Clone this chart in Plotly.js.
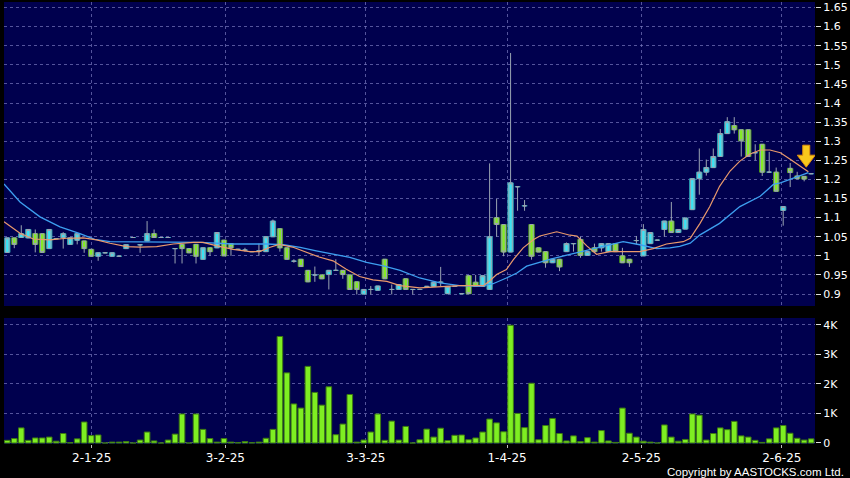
<!DOCTYPE html>
<html><head><meta charset="utf-8">
<script src="https://cdn.plot.ly/plotly-3.0.1.min.js"></script>
<style>html,body{margin:0;padding:0;background:#000;}#chart{width:850px;height:478px;}</style>
</head><body><div id="chart"></div>
<script>
// ---- data (one entry per trading day) ----
const openP  = [1.009,1.047,1.048,1.047,1.058,1.058,1.019,1.045,1.048,1.03,1.041,1.039,1.017,0.999,1.008,0.999,0.999,1.019,1.048,1.029,1.039,1.058,1.048,1.048,1.019,1.03,1.019,1.03,0.991,1.021,
1.021,1.041,1.032,1.017,1.015,1.011,1.013,1.011,1.05,1.071,1.021,0.986,0.991,0.962,0.95,0.95,0.951,0.962,0.962,0.95,0.932,0.9,0.912,0.91,0.991,0.912,0.912,0.94,0.912,0.912,
0.92,0.92,0.931,0.901,0.92,0.901,0.948,0.931,0.92,0.912,1.1,1.082,1.01,1.181,1.131,1.082,1.021,1.011,0.982,0.991,1.011,1.032,1.043,1.001,1.021,1.021,1.011,1.032,1.0,0.991,
1.04,1.0,1.032,1.041,1.069,1.091,1.061,1.07,1.121,1.202,1.219,1.231,1.26,1.32,1.341,1.33,1.33,1.27,1.292,1.219,1.219,1.119,1.229,1.209,1.208,1.215];
const highP  = [1.047,1.047,1.08,1.069,1.069,1.058,1.069,1.045,1.062,1.047,1.058,1.039,1.017,1.008,1.008,1.008,0.999,1.029,1.048,1.029,1.091,1.069,1.048,1.048,1.019,1.03,1.019,1.03,1.021,1.021,
1.061,1.041,1.032,1.017,1.021,1.011,1.032,1.05,1.095,1.071,1.021,0.991,0.991,0.962,0.972,0.95,0.962,0.991,0.962,0.95,0.932,0.912,0.921,0.921,0.991,0.925,0.925,0.94,0.912,0.912,
0.92,0.931,0.971,0.92,0.92,0.901,0.948,0.95,0.948,1.242,1.149,1.082,1.531,1.181,1.146,1.082,1.021,1.011,0.991,0.991,1.035,1.032,1.05,1.011,1.032,1.032,1.032,1.032,1.021,0.991,
1.052,1.083,1.061,1.041,1.091,1.141,1.069,1.099,1.202,1.281,1.252,1.281,1.332,1.363,1.363,1.33,1.33,1.292,1.292,1.272,1.231,1.129,1.243,1.22,1.208,1.215];
const lowP   = [1.009,1.02,1.048,1.047,1.009,1.009,1.019,1.045,1.019,1.03,1.03,1.008,0.999,0.987,1.008,0.999,0.999,1.019,1.048,1.008,1.039,1.048,1.048,1.048,0.98,0.98,1.008,0.98,0.991,1.0,
1.021,1.0,1.0,1.017,1.011,1.011,1.0,1.011,1.05,1.011,0.991,0.982,0.972,0.932,0.932,0.94,0.912,0.962,0.94,0.912,0.899,0.9,0.899,0.91,0.94,0.899,0.912,0.912,0.899,0.912,
0.92,0.92,0.92,0.901,0.92,0.901,0.901,0.92,0.92,0.912,1.05,0.999,1.01,1.118,1.118,0.99,1.01,0.969,0.982,0.96,1.011,1.011,0.995,1.001,1.011,1.011,1.011,1.011,0.982,0.971,
1.03,1.0,1.032,1.041,1.05,1.061,1.061,1.07,1.121,1.16,1.21,1.231,1.26,1.32,1.32,1.26,1.26,1.25,1.209,1.219,1.169,1.079,1.18,1.2,1.195,1.215];
const closeP = [1.047,1.03,1.058,1.069,1.03,1.009,1.069,1.045,1.058,1.047,1.058,1.019,0.999,1.008,1.008,1.008,0.999,1.029,1.048,1.029,1.058,1.048,1.048,1.048,1.019,1.019,1.008,0.999,1.021,1.011,
1.061,1.0,1.021,1.017,1.015,1.011,1.013,1.05,1.091,1.021,0.991,0.986,0.972,0.932,0.95,0.94,0.962,0.962,0.951,0.912,0.912,0.912,0.912,0.921,0.94,0.912,0.925,0.912,0.912,0.912,
0.92,0.931,0.931,0.92,0.92,0.901,0.901,0.92,0.948,1.05,1.082,1.01,1.191,1.181,1.131,0.999,1.01,0.982,0.991,0.971,1.032,1.032,1.001,1.011,1.011,1.032,1.032,1.011,0.982,0.982,
1.04,1.069,1.061,1.041,1.091,1.061,1.069,1.099,1.202,1.219,1.231,1.26,1.32,1.351,1.33,1.301,1.26,1.27,1.219,1.219,1.169,1.129,1.218,1.202,1.201,1.215];
// volume in thousands
const volumeK = [0.09,0.15,0.51,0.09,0.17,0.17,0.2,0.06,0.32,0.01,0.14,0.71,0.25,0.27,0,0.03,0.03,0.05,0,0.1,0.37,0.07,0,0.1,0.3,0.98,0,0.98,0.46,0.15,
0.03,0.15,0.03,0.01,0.05,0.01,0.03,0.16,0.46,3.6,2.37,1.32,1.18,2.59,1.71,1.28,1.9,0.28,0.64,1.64,0.03,0.1,0.37,0.98,0.09,0.74,0.1,0.56,0,0.11,
0.47,0.2,0.5,0.08,0.26,0.27,0.11,0.17,0.37,0.81,0.68,0.38,3.98,1.0,0.52,2.02,0.11,0.59,0.83,0.32,0.07,0.24,0.05,0.18,0.03,0.42,0.07,0.02,1.18,0.33,
0.2,0.06,0.03,0,0.61,0.2,0.06,0.12,0.98,0.94,0.1,0.32,0.51,0.45,0.73,0.24,0.2,0.09,0.02,0.14,0.51,0.59,0.33,0.16,0.1,0.14];
// moving averages (position in trading days, value)
const maShortPos = [-0.47,0.86,1.82,3.72,6.11,8.49,10.87,12.78,14.69,17.07,18.98,21.37,23.75,26.61,28,30,32.3,34.7,36.1,37.5,38.9,40.8,42.7,44.6,46.6,48.5,50.4,52.3,54.3,56.2,59,61.9,64.7,68.1,69,70,71.4,72.4,73.8,75.3,76.2,78.6,80.5,81.5,82.9,84.3,86.2,90.5,92.4,94.3,96.7,97.7,99.1,100.5,101.9,103.4,104.8,106.2,107.7,109.1,110.6,112,113.4,114.6];
const maShortVal = [1.089,1.072,1.059,1.044,1.042,1.046,1.047,1.042,1.033,1.024,1.023,1.024,1.031,1.035,1.035,1.026,1.017,1.011,1.011,1.022,1.03,1.023,1.009,0.997,0.987,0.965,0.946,0.937,0.933,0.922,0.916,0.92,0.922,0.922,0.934,0.951,0.964,0.99,1.021,1.043,1.052,1.063,1.054,1.052,1.026,1.004,1.011,1.011,1.019,1.031,1.037,1.046,1.085,1.129,1.182,1.222,1.248,1.266,1.277,1.277,1.27,1.253,1.235,1.22];
const maLongPos = [-0.47,1.82,4.68,7.54,10.4,12.5,14.69,18.98,23.75,27.6,32.3,37.1,39.5,41.9,44.2,46.6,49,51.4,53.8,56.2,59,61.9,64.7,67.6,69.5,71.4,72.9,74.3,76.2,77.6,80.5,83.4,86.2,88.1,90.5,92.9,94.8,96.2,97.7,99.1,101.9,104.8,107.7,109.6,110.6,112,113.4,114.6];
const maLongVal = [1.188,1.141,1.102,1.076,1.058,1.043,1.037,1.036,1.036,1.035,1.031,1.031,1.029,1.022,1.013,1.004,0.996,0.983,0.974,0.962,0.942,0.929,0.922,0.92,0.927,0.942,0.955,0.973,0.983,0.991,1.004,1.017,1.03,1.037,1.029,1.019,1.021,1.025,1.033,1.055,1.085,1.129,1.156,1.187,1.191,1.2,1.209,1.218];
const tickPos = [12.07,31.2,51.3,71.5,90.7,110.8];
const tickLabels = ['2-1-25','3-2-25','3-3-25','1-4-25','2-5-25','2-6-25'];
const volTickVals = [0,1,2,3,4];
const volTickText = ['0','1K','2K','3K','4K'];

const dayIdx = openP.map((_, i) => i);
const lastIdx = dayIdx.length - 1;
const upCol = '#3ae4f4', downCol = '#84ec24';
const bodyBase = openP.map((o, i) => Math.min(o, closeP[i]));
const bodyLen = openP.map((o, i) => Math.abs(closeP[i] - o));
const bodyFill = openP.map((o, i) => closeP[i] >= o ? upCol : downCol);
const bodyEdge = openP.map((o, i) => closeP[i] >= o ? '#2a9fb0' : '#4f9a1c');

const gridCol = 'rgba(120,120,190,0.7)';
const tickFont = {family:'DejaVu Sans, Verdana, sans-serif', size:11, color:'#ffffff'};

const traces = [
  // wicks and doji dashes
  {type:'candlestick', x:dayIdx, open:openP, high:highP, low:lowP, close:closeP, xaxis:'x', yaxis:'y',
   increasing:{line:{color:'#9aa4b2', width:1}, fillcolor:upCol},
   decreasing:{line:{color:'#9aa4b2', width:1}, fillcolor:downCol},
   whiskerwidth:0, hoverinfo:'skip', showlegend:false},
  // candle bodies
  {type:'bar', x:dayIdx, y:bodyLen, base:bodyBase, xaxis:'x', yaxis:'y', width:0.76,
   marker:{color:bodyFill, line:{color:bodyEdge, width:1}}, hoverinfo:'skip', showlegend:false},
  {type:'scatter', mode:'lines', x:maLongPos, y:maLongVal, xaxis:'x', yaxis:'y',
   line:{color:'#3d9ff0', width:1.3}, hoverinfo:'skip', showlegend:false},
  {type:'scatter', mode:'lines', x:maShortPos, y:maShortVal, xaxis:'x', yaxis:'y',
   line:{color:'#eb9a6c', width:1.2}, hoverinfo:'skip', showlegend:false},
  {type:'bar', x:dayIdx, y:volumeK, xaxis:'x', yaxis:'y2', width:0.8,
   marker:{color:'#7eee22', line:{color:'#3d7a12', width:1}}, hoverinfo:'skip', showlegend:false}
];

const layout = {
  width:850, height:478,
  paper_bgcolor:'#000000', plot_bgcolor:'#00004e',
  margin:{l:4, r:35, t:2, b:34},
  showlegend:false,
  barmode:'overlay',
  xaxis:{range:[-0.47,115.55], anchor:'y2', rangeslider:{visible:false},
    tickmode:'array', tickvals:tickPos, ticktext:tickLabels,
    ticks:'outside', ticklen:3, tickcolor:'#bbbbbb',
    tickfont:{family:'DejaVu Sans, Verdana, sans-serif', size:12, color:'#ffffff'},
    showgrid:true, gridcolor:gridCol, griddash:'3px,3px', gridwidth:1,
    zeroline:false, showline:false, fixedrange:true},
  yaxis:{domain:[0.3122,1], range:[0.8687,1.6644], side:'right',
    tick0:0.9, dtick:0.05, ticks:'outside', ticklen:5, tickcolor:'#dddddd',
    tickfont:tickFont, showgrid:true, gridcolor:gridCol, griddash:'3px,3px',
    zeroline:false, showline:false},
  yaxis2:{domain:[0,0.2851], range:[-0.034,4.226], side:'right',
    tickmode:'array', tickvals:volTickVals, ticktext:volTickText,
    ticks:'outside', ticklen:5, tickcolor:'#dddddd',
    tickfont:tickFont, showgrid:true, gridcolor:gridCol, griddash:'3px,3px',
    zeroline:false, showline:false},
  shapes:[
    {type:'path', xref:'x', yref:'y', xsizemode:'pixel', ysizemode:'pixel',
     xanchor:lastIdx - 0.7, yanchor:maShortVal[maShortVal.length-1] + 0.012,
     path:'M 0 0 L -9 12 L -3.5 12 L -3.5 22 L 3.5 22 L 3.5 12 L 9 12 Z',
     fillcolor:'#f8c81c', line:{color:'#e0900c', width:1}}
  ],
  annotations:[
    {text:'Copyright by AASTOCKS.com Ltd.', xref:'paper', yref:'paper', x:1.0385, y:-0.0625,
     xanchor:'right', yanchor:'middle', showarrow:false,
     font:{family:'Liberation Sans, Arial, sans-serif', size:11.5, color:'#ffffff'}}
  ]
};

Plotly.newPlot('chart', traces, layout, {staticPlot:true, displayModeBar:false});
</script>
</body></html>
